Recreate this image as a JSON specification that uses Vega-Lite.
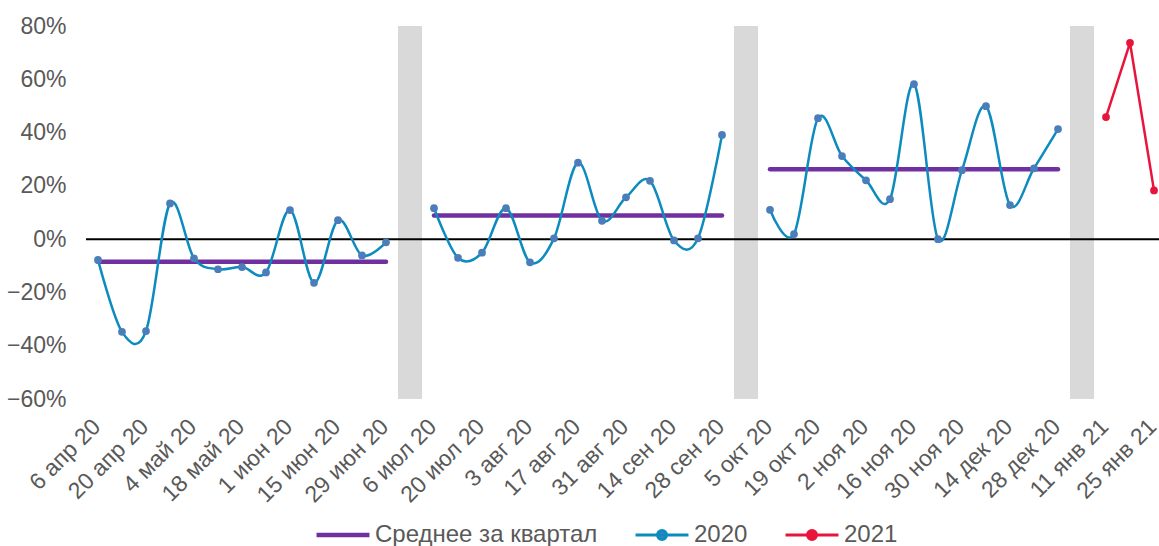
{
  "$schema": "https://vega.github.io/schema/vega-lite/v6.json",
  "width": 1080,
  "height": 373,
  "autosize": {"type": "none"},
  "padding": {"left": 86, "top": 26, "right": -7, "bottom": 147},
  "background": "white",
  "config": {
    "font": "Liberation Sans",
    "view": {"stroke": null},
    "axis": {"labelFont": "Liberation Sans", "labelColor": "#595959", "labelFontSize": 23, "title": null},
    "legend": {
      "title": null, "orient": "none", "direction": "horizontal",
      "legendX": 245, "legendY": 497,
      "labelFontSize": 24, "labelColor": "#595959", "labelFont": "Liberation Sans", "labelLimit": 0,
      "labelOffset": 20, "columnPadding": 31,
      "symbolType": "stroke", "symbolSize": 2800, "symbolStrokeWidth": 3
    }
  },
  "datasets": {
    "gaps": [{"week": "q2|q3"}, {"week": "q3|q4"}, {"week": "q4|q1"}],
    "obs": [
      {"week": "6 апр 20", "quarter": "Q2", "series": "2020", "v": -0.078},
      {"week": "13 апр 20", "quarter": "Q2", "series": "2020", "v": -0.348},
      {"week": "20 апр 20", "quarter": "Q2", "series": "2020", "v": -0.345},
      {"week": "27 апр 20", "quarter": "Q2", "series": "2020", "v": 0.134},
      {"week": "4 май 20", "quarter": "Q2", "series": "2020", "v": -0.072},
      {"week": "11 май 20", "quarter": "Q2", "series": "2020", "v": -0.113},
      {"week": "18 май 20", "quarter": "Q2", "series": "2020", "v": -0.105},
      {"week": "25 май 20", "quarter": "Q2", "series": "2020", "v": -0.125},
      {"week": "1 июн 20", "quarter": "Q2", "series": "2020", "v": 0.109},
      {"week": "8 июн 20", "quarter": "Q2", "series": "2020", "v": -0.164},
      {"week": "15 июн 20", "quarter": "Q2", "series": "2020", "v": 0.071},
      {"week": "22 июн 20", "quarter": "Q2", "series": "2020", "v": -0.061},
      {"week": "29 июн 20", "quarter": "Q2", "series": "2020", "v": -0.012},
      {"week": "6 июл 20", "quarter": "Q3", "series": "2020", "v": 0.116},
      {"week": "13 июл 20", "quarter": "Q3", "series": "2020", "v": -0.070},
      {"week": "20 июл 20", "quarter": "Q3", "series": "2020", "v": -0.051},
      {"week": "27 июл 20", "quarter": "Q3", "series": "2020", "v": 0.116},
      {"week": "3 авг 20", "quarter": "Q3", "series": "2020", "v": -0.087},
      {"week": "10 авг 20", "quarter": "Q3", "series": "2020", "v": 0.003},
      {"week": "17 авг 20", "quarter": "Q3", "series": "2020", "v": 0.287},
      {"week": "24 авг 20", "quarter": "Q3", "series": "2020", "v": 0.069},
      {"week": "31 авг 20", "quarter": "Q3", "series": "2020", "v": 0.157},
      {"week": "7 сен 20", "quarter": "Q3", "series": "2020", "v": 0.219},
      {"week": "14 сен 20", "quarter": "Q3", "series": "2020", "v": -0.005},
      {"week": "21 сен 20", "quarter": "Q3", "series": "2020", "v": 0.003},
      {"week": "28 сен 20", "quarter": "Q3", "series": "2020", "v": 0.391},
      {"week": "5 окт 20", "quarter": "Q4", "series": "2020", "v": 0.110},
      {"week": "12 окт 20", "quarter": "Q4", "series": "2020", "v": 0.019},
      {"week": "19 окт 20", "quarter": "Q4", "series": "2020", "v": 0.454},
      {"week": "26 окт 20", "quarter": "Q4", "series": "2020", "v": 0.312},
      {"week": "2 ноя 20", "quarter": "Q4", "series": "2020", "v": 0.221},
      {"week": "9 ноя 20", "quarter": "Q4", "series": "2020", "v": 0.150},
      {"week": "16 ноя 20", "quarter": "Q4", "series": "2020", "v": 0.582},
      {"week": "23 ноя 20", "quarter": "Q4", "series": "2020", "v": 0.000},
      {"week": "30 ноя 20", "quarter": "Q4", "series": "2020", "v": 0.259},
      {"week": "7 дек 20", "quarter": "Q4", "series": "2020", "v": 0.499},
      {"week": "14 дек 20", "quarter": "Q4", "series": "2020", "v": 0.128},
      {"week": "21 дек 20", "quarter": "Q4", "series": "2020", "v": 0.266},
      {"week": "28 дек 20", "quarter": "Q4", "series": "2020", "v": 0.413},
      {"week": "11 янв 21", "quarter": "Q1", "series": "2021", "v": 0.458},
      {"week": "18 янв 21", "quarter": "Q1", "series": "2021", "v": 0.737},
      {"week": "25 янв 21", "quarter": "Q1", "series": "2021", "v": 0.183}
    ]
  },
  "layer": [
    {
      "data": {"name": "gaps"},
      "mark": {"type": "bar", "color": "#d9d9d9"},
      "encoding": {
        "x": {
          "field": "week", "type": "ordinal",
          "scale": {"type": "band", "paddingInner": 0, "paddingOuter": 0,
            "domain": ["6 апр 20","13 апр 20","20 апр 20","27 апр 20","4 май 20","11 май 20","18 май 20","25 май 20","1 июн 20","8 июн 20","15 июн 20","22 июн 20","29 июн 20","q2|q3","6 июл 20","13 июл 20","20 июл 20","27 июл 20","3 авг 20","10 авг 20","17 авг 20","24 авг 20","31 авг 20","7 сен 20","14 сен 20","21 сен 20","28 сен 20","q3|q4","5 окт 20","12 окт 20","19 окт 20","26 окт 20","2 ноя 20","9 ноя 20","16 ноя 20","23 ноя 20","30 ноя 20","7 дек 20","14 дек 20","21 дек 20","28 дек 20","q4|q1","11 янв 21","18 янв 21","25 янв 21"]},
          "axis": {
            "values": ["6 апр 20","20 апр 20","4 май 20","18 май 20","1 июн 20","15 июн 20","29 июн 20","6 июл 20","20 июл 20","3 авг 20","17 авг 20","31 авг 20","14 сен 20","28 сен 20","5 окт 20","19 окт 20","2 ноя 20","16 ноя 20","30 ноя 20","14 дек 20","28 дек 20","11 янв 21","25 янв 21"],
            "labelAngle": -45, "labelPadding": 16, "labelOffset": -9, "ticks": false, "tickSize": 0, "domain": false, "grid": false
          }
        },
        "y": {
          "datum": 0.8, "type": "quantitative",
          "scale": {"domain": [-0.6, 0.8], "nice": false, "zero": false},
          "axis": {
            "values": [-0.6, -0.4, -0.2, 0, 0.2, 0.4, 0.6, 0.8], "format": ".0%",
            "ticks": false, "tickSize": 0, "domain": false, "labelPadding": 20,
            "gridColor": "#d9d9d9", "gridWidth": 1.3
          }
        },
        "y2": {"datum": -0.6}
      }
    },
    {
      "data": {"values": [{}]},
      "mark": {"type": "rule", "color": "#000000", "strokeWidth": 2},
      "encoding": {"y": {"datum": 0, "type": "quantitative"}}
    },
    {
      "data": {"name": "obs"},
      "encoding": {
        "x": {
          "field": "week", "type": "ordinal",
          "scale": {"type": "band", "paddingInner": 0, "paddingOuter": 0,
            "domain": ["6 апр 20","13 апр 20","20 апр 20","27 апр 20","4 май 20","11 май 20","18 май 20","25 май 20","1 июн 20","8 июн 20","15 июн 20","22 июн 20","29 июн 20","q2|q3","6 июл 20","13 июл 20","20 июл 20","27 июл 20","3 авг 20","10 авг 20","17 авг 20","24 авг 20","31 авг 20","7 сен 20","14 сен 20","21 сен 20","28 сен 20","q3|q4","5 окт 20","12 окт 20","19 окт 20","26 окт 20","2 ноя 20","9 ноя 20","16 ноя 20","23 ноя 20","30 ноя 20","7 дек 20","14 дек 20","21 дек 20","28 дек 20","q4|q1","11 янв 21","18 янв 21","25 янв 21"]},
          "axis": {
            "values": ["6 апр 20","20 апр 20","4 май 20","18 май 20","1 июн 20","15 июн 20","29 июн 20","6 июл 20","20 июл 20","3 авг 20","17 авг 20","31 авг 20","14 сен 20","28 сен 20","5 окт 20","19 окт 20","2 ноя 20","16 ноя 20","30 ноя 20","14 дек 20","28 дек 20","11 янв 21","25 янв 21"],
            "labelAngle": -45, "labelPadding": 16, "labelOffset": -9, "ticks": false, "tickSize": 0, "domain": false, "grid": false
          }
        },
        "y": {"field": "v", "type": "quantitative"}
      },
      "layer": [
        {
          "transform": [
            {"filter": "datum.series === '2020'"},
            {"joinaggregate": [{"op": "mean", "field": "v", "as": "avg"}], "groupby": ["quarter"]}
          ],
          "mark": {"type": "line", "strokeWidth": 4.5, "strokeCap": "round"},
          "encoding": {
            "y": {"field": "avg", "type": "quantitative"},
            "detail": {"field": "quarter"},
            "color": {
              "datum": "Среднее за квартал", "type": "nominal",
              "scale": {"domain": ["Среднее за квартал", "2020", "2021"], "range": ["#7030a0", "#0d8bbf", "#e9143c"]},
              "legend": {
                "title": null,
                "encode": {
                  "symbols": {
                    "update": {
                      "shape": {"signal": "datum.value === 'Среднее за квартал' ? 'stroke' : 'M-1,0H1M-0.17,0A0.17,0.17 0 1,1 0.17,0A0.17,0.17 0 1,1 -0.17,0Z'"},
                      "fill": {"signal": "datum.value === '2020' ? '#4a7ebb' : (datum.value === '2021' ? '#e9143c' : 'transparent')"},
                      "strokeWidth": {"signal": "datum.value === 'Среднее за квартал' ? 4.5 : 3"}
                    }
                  }
                }
              }
            }
          }
        },
        {
          "transform": [{"filter": "datum.series === '2020'"}],
          "mark": {"type": "line", "interpolate": "cardinal", "strokeWidth": 2.5},
          "encoding": {
            "detail": {"field": "quarter"},
            "color": {
              "field": "series", "type": "nominal",
              "legend": {
                "title": null,
                "encode": {
                  "symbols": {
                    "update": {
                      "shape": {"signal": "datum.value === 'Среднее за квартал' ? 'stroke' : 'M-1,0H1M-0.17,0A0.17,0.17 0 1,1 0.17,0A0.17,0.17 0 1,1 -0.17,0Z'"},
                      "fill": {"signal": "datum.value === '2020' ? '#4a7ebb' : (datum.value === '2021' ? '#e9143c' : 'transparent')"},
                      "strokeWidth": {"signal": "datum.value === 'Среднее за квартал' ? 4.5 : 3"}
                    }
                  }
                }
              }
            }
          }
        },
        {
          "transform": [{"filter": "datum.series === '2020'"}],
          "mark": {"type": "point", "filled": true, "opacity": 1, "size": 60, "color": "#4a7ebb"}
        },
        {
          "transform": [{"filter": "datum.series === '2021'"}],
          "mark": {"type": "line", "strokeWidth": 2.5},
          "encoding": {
            "color": {
              "field": "series", "type": "nominal",
              "legend": {
                "title": null,
                "encode": {
                  "symbols": {
                    "update": {
                      "shape": {"signal": "datum.value === 'Среднее за квартал' ? 'stroke' : 'M-1,0H1M-0.17,0A0.17,0.17 0 1,1 0.17,0A0.17,0.17 0 1,1 -0.17,0Z'"},
                      "fill": {"signal": "datum.value === '2020' ? '#4a7ebb' : (datum.value === '2021' ? '#e9143c' : 'transparent')"},
                      "strokeWidth": {"signal": "datum.value === 'Среднее за квартал' ? 4.5 : 3"}
                    }
                  }
                }
              }
            }
          }
        },
        {
          "transform": [{"filter": "datum.series === '2021'"}],
          "mark": {"type": "point", "filled": true, "opacity": 1, "size": 60, "color": "#e9143c"}
        }
      ]
    }
  ]
}
